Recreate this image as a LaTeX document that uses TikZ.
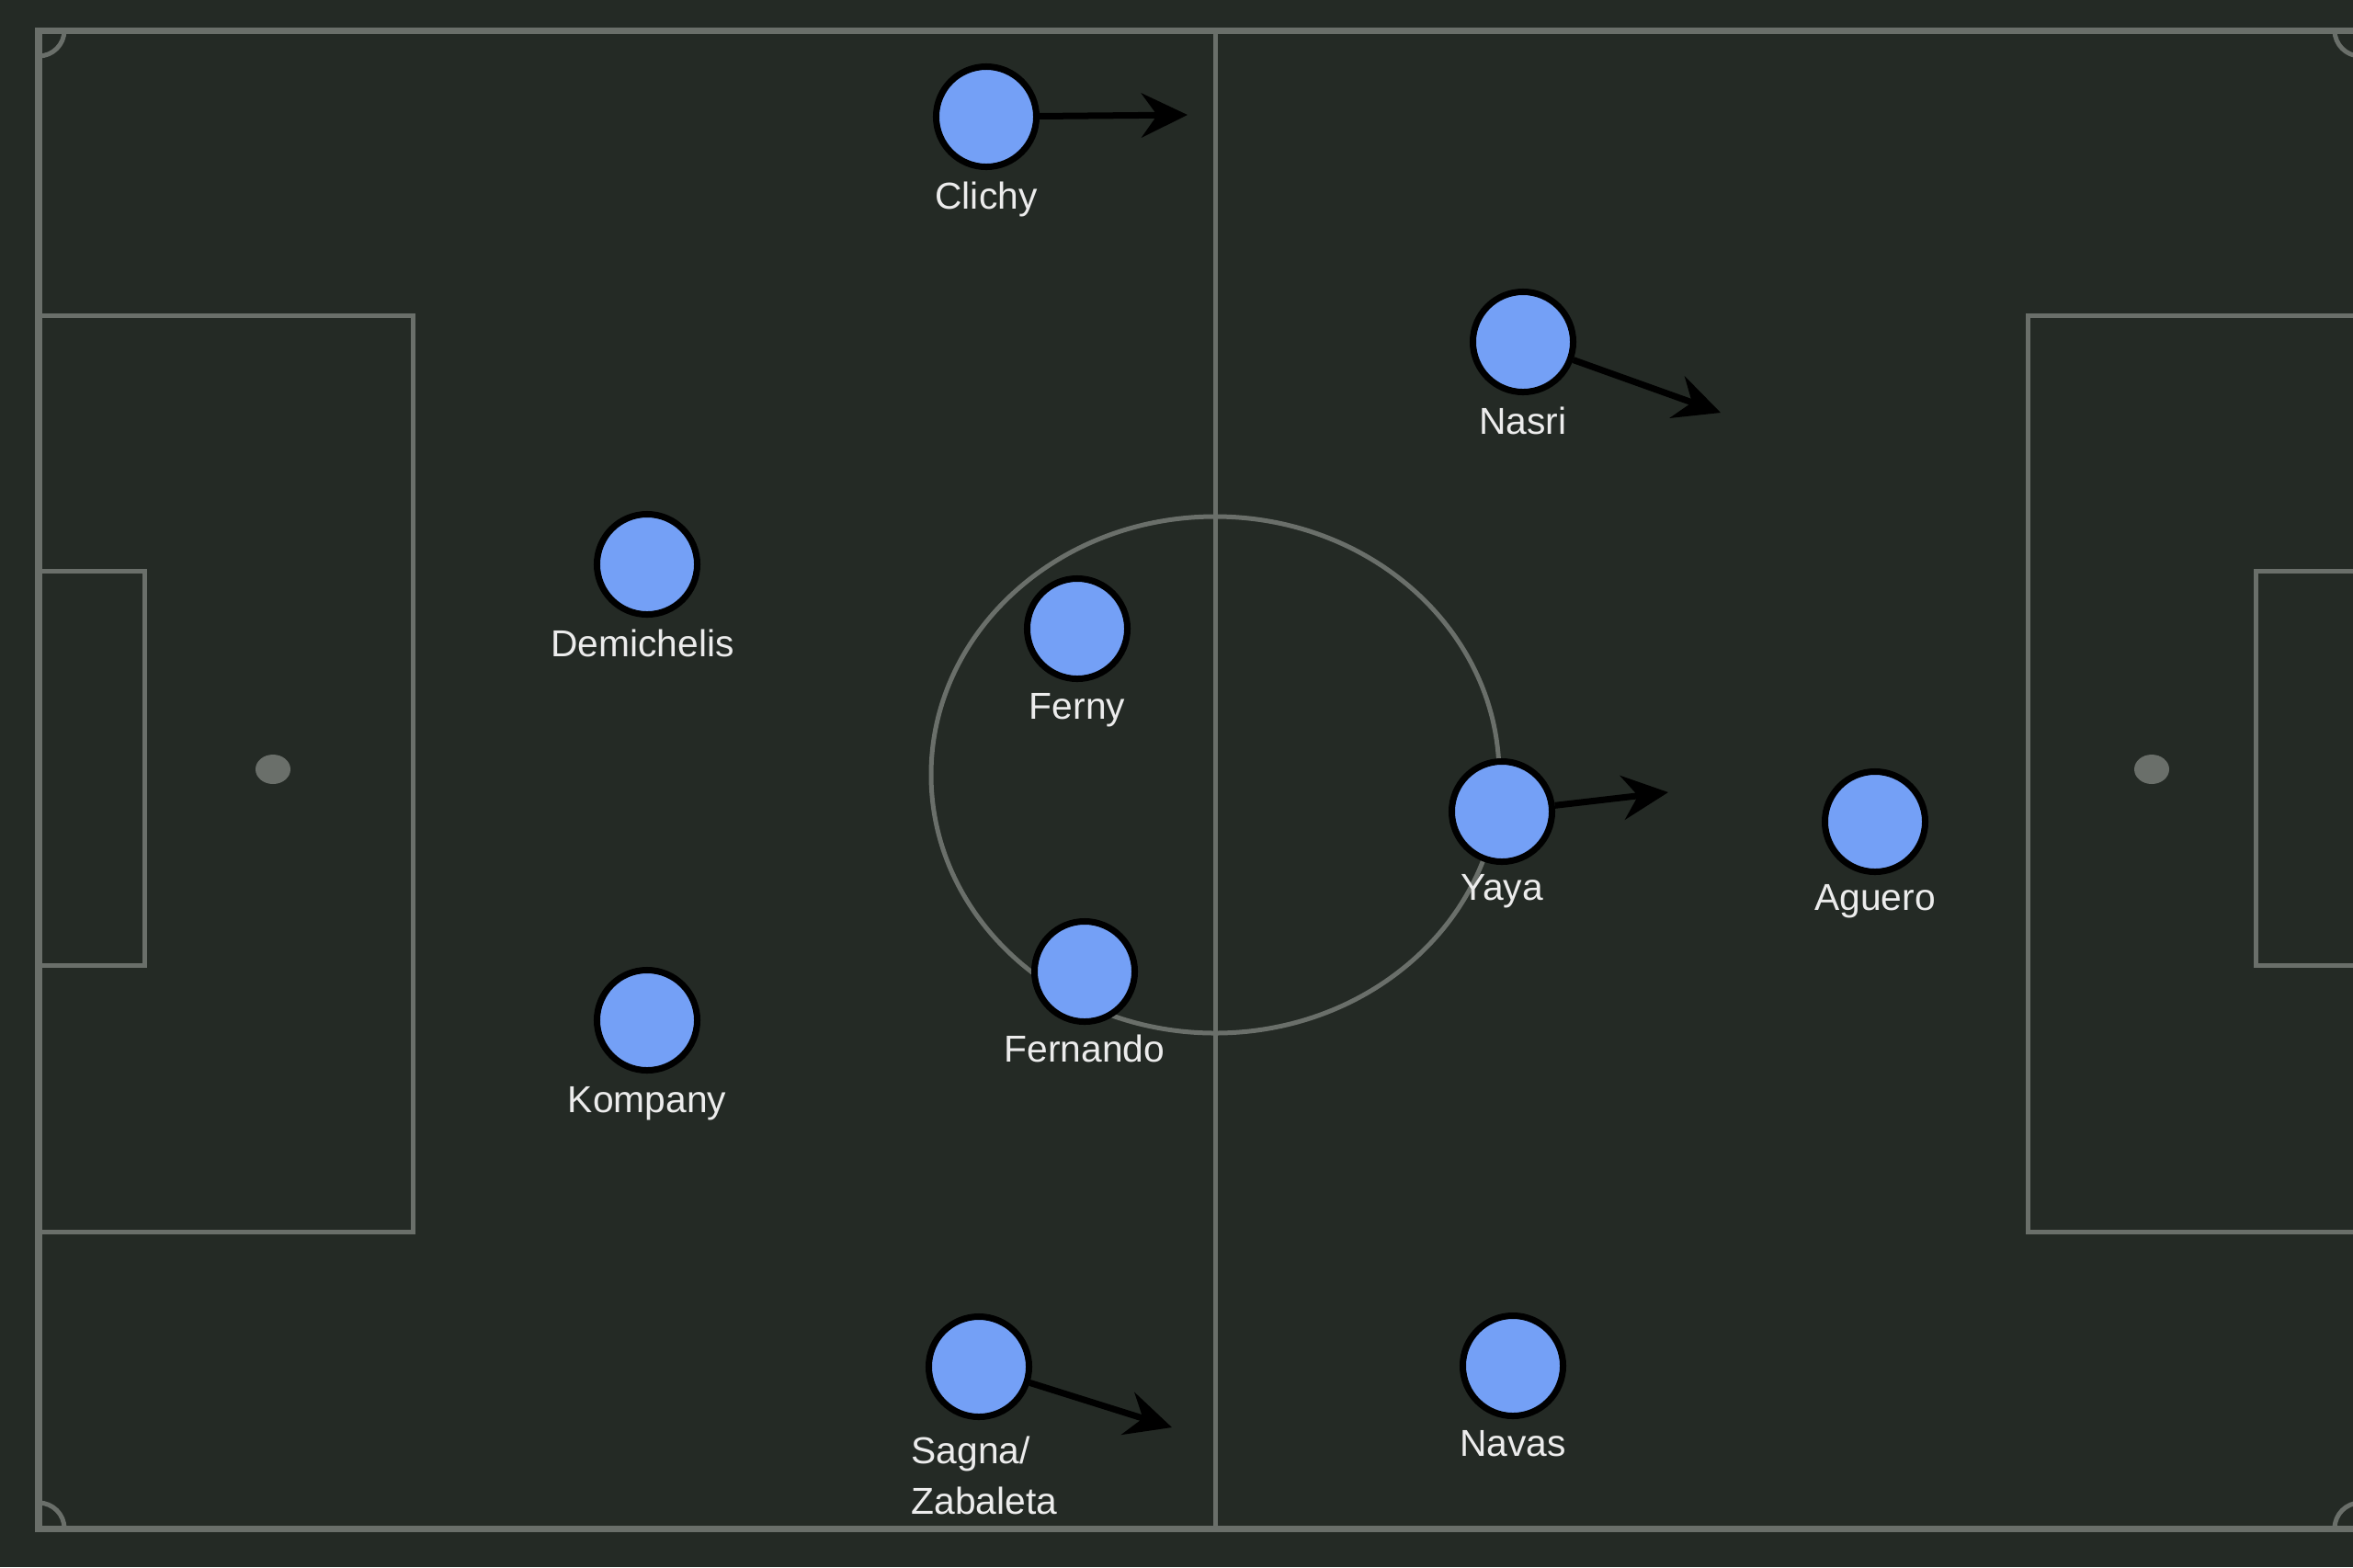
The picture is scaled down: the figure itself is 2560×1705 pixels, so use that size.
\documentclass[tikz,border=0pt]{standalone}
\usepackage{fontspec}
\setmainfont{Liberation Sans}
\usepackage{xcolor}
\usepackage{tikz}
\usetikzlibrary{positioning, arrows.meta}

\definecolor{pitchbg}{RGB}{36,42,37}
\definecolor{pitchline}{RGB}{106,111,106}
\definecolor{shirt}{RGB}{116,160,246}
\definecolor{nametext}{RGB}{236,236,236}

\begin{document}
\begin{tikzpicture}[x=0.01cm, y=-0.01cm, >={Stealth[length=0.5cm, width=0.48cm, inset=0.17cm]},
        player/.style={draw=black, fill=shirt, circle, line width=0.07cm, minimum size=1.09cm, inner sep=0pt},
        namefont/.style={text=nametext, inner sep=0pt, font=\fontsize{11.6}{15.6}\selectfont},
        playername/.style={namefont, text height=0.3cm, text depth=0.09cm},
        runarrow/.style={->, line width=0.07cm, draw=black},
        marking/.style={draw=pitchline, line width=0.05cm}]

        % Background
        \useasboundingbox (0,0) rectangle (2560,1705);
        \fill[pitchbg] (0,0) rectangle (2560,1705);
        \clip (0,0) rectangle (2560,1705);

        % Pitch markings
        \draw[marking, line width=0.07cm] (42,33) rectangle (2568,1663);
        \draw[marking] (1322,33) -- (1322,1663);
        \draw[marking] (1322,843) ellipse [x radius=309, y radius=281];
        \draw[marking] (42,343) rectangle (449,1340);
        \draw[marking] (42,621) rectangle (157,1050);
        \draw[marking] (2206,343) rectangle (2568,1340);
        \draw[marking] (2454,621) rectangle (2568,1050);
        \fill[pitchline] (297,837) ellipse [x radius=19, y radius=16];
        \fill[pitchline] (2341,837) ellipse [x radius=19, y radius=16];

        % Corner arcs
        \begin{scope}
            \clip (42,33) rectangle (2568,1663);
            \draw[marking] (42,33) circle [radius=28];
            \draw[marking] (42,1663) circle [radius=28];
            \draw[marking] (2568,33) circle [radius=28];
            \draw[marking] (2568,1663) circle [radius=28];
        \end{scope}

        % Players
        \node[player] (clichy) at (1073,127) {};
        \node[player] (nasri) at (1657,372) {};
        \node[player] (demichelis) at (704,614) {};
        \node[player] (ferny) at (1172,684) {};
        \node[player] (yaya) at (1634,883) {};
        \node[player] (aguero) at (2040,894) {};
        \node[player] (fernando) at (1180,1057) {};
        \node[player] (kompany) at (704,1110) {};
        \node[player] (sagna) at (1065,1487) {};
        \node[player] (navas) at (1646,1486) {};

        % Names
        \node[playername, below=0.12cm of clichy] (clichyname) {Clichy};
        \node[playername, below=0.12cm of nasri] (nasriname) {Nasri};
        \node[playername, below=0.12cm of demichelis, xshift=-0.05cm] (demichelisname) {Demichelis};
        \node[playername, below=0.1cm of ferny] (fernyname) {Ferny};
        \node[playername, below=0.08cm of yaya] (yayaname) {Yaya};
        \node[playername, below=0.08cm of aguero] (agueroname) {Aguero};
        \node[playername, below=0.1cm of fernando] (fernandoname) {Fernando};
        \node[playername, below=0.12cm of kompany] (kompanyname) {Kompany};
        \node[namefont, align=left, below=0.17cm of sagna, xshift=0.06cm] (sagnaname) {Sagna/\\Zabaleta};
        \node[playername, below=0.1cm of navas] (navasname) {Navas};

        % Runs
        \coordinate (clichyrun) at (1292,125);
        \coordinate (nasrirun) at (1872,449);
        \coordinate (yayarun) at (1815,862);
        \coordinate (sagnarun) at (1275,1553);
        \draw[runarrow] (clichy) -- (clichyrun);
        \draw[runarrow] (nasri) -- (nasrirun);
        \draw[runarrow] (yaya) -- (yayarun);
        \draw[runarrow] (sagna) -- (sagnarun);

    \end{tikzpicture}
\end{document}
